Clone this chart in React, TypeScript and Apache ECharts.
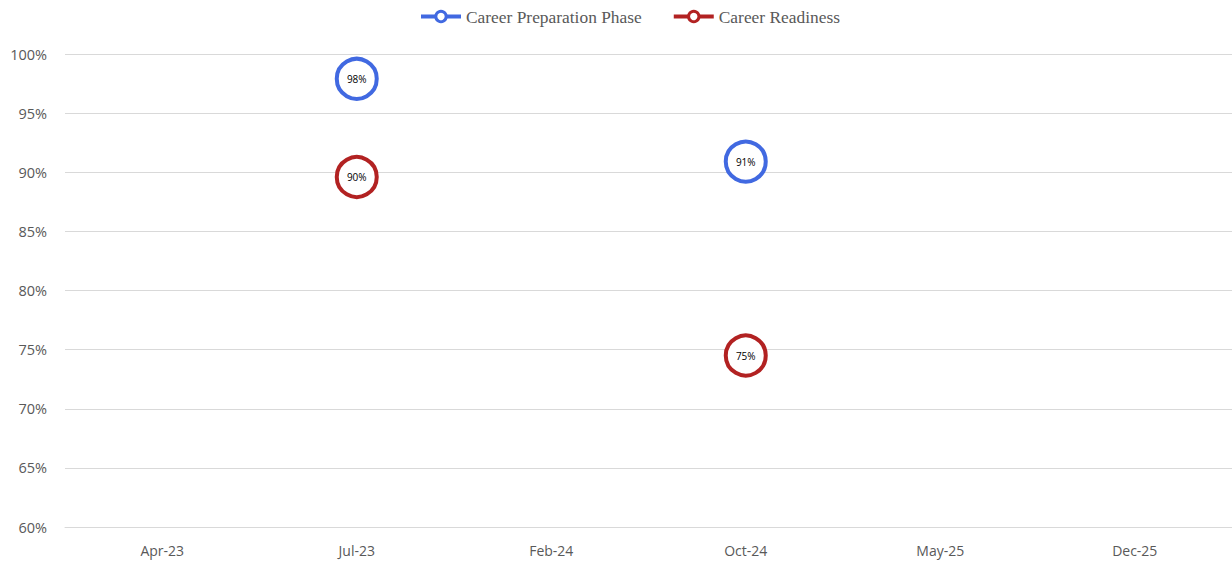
import React, { useEffect, useRef } from "react";
import * as echarts from "echarts";

const categories = ["Apr-23", "Jul-23", "Feb-24", "Oct-24", "May-25", "Dec-25"];
const prepValues: (number | null)[] = [null, 0.979, null, 0.909, null, null];
const readinessValues: (number | null)[] = [null, 0.896, null, 0.745, null, null];
const yTicks = { min: 0.6, max: 1.0, interval: 0.05 };

export default function App() {
  const ref = useRef<HTMLDivElement>(null);
  useEffect(() => {
    const chart = echarts.init(ref.current!, null, { renderer: "svg" });
    const mkSeries = (name: string, data: (number | null)[], color: string) => ({
      name,
      type: "line",
      data,
      connectNulls: false,
      showSymbol: true,
      symbol: "circle",
      symbolSize: 40,
      itemStyle: { color: "#ffffff", borderColor: color, borderWidth: 4 },
      lineStyle: { color, width: 4 },
      label: {
        show: true,
        position: "inside",
        fontFamily: "Open Sans",
        fontSize: 10,
        color: "#000000",
        formatter: (p: any) => Math.round(p.value * 100) + "%",
      },
      emphasis: { disabled: true },
    });
    chart.setOption({
      animation: false,
      backgroundColor: "#ffffff",
      legend: {
        top: 3,
        left: 414,
        itemWidth: 40,
        itemHeight: 13,
        itemGap: 30,
        itemStyle: { borderWidth: 3 },
        lineStyle: { width: 4 },
        textStyle: { fontFamily: "Liberation Serif", fontSize: 17.4, color: "#595959" },
        data: ["Career Preparation Phase", "Career Readiness"],
      },
      grid: { left: 65, right: -4, top: 54, bottom: 44, containLabel: false },
      xAxis: {
        type: "category",
        data: categories,
        boundaryGap: true,
        axisLine: { lineStyle: { color: "#d9d9d9", width: 1 } },
        axisTick: { show: false },
        axisLabel: { fontFamily: "Open Sans", fontSize: 14, color: "#595959", margin: 16 },
      },
      yAxis: {
        type: "value",
        min: yTicks.min,
        max: yTicks.max,
        interval: yTicks.interval,
        axisLine: { show: false },
        axisTick: { show: false },
        splitLine: { lineStyle: { color: "#d9d9d9", width: 1 } },
        axisLabel: {
          fontFamily: "Open Sans",
          fontSize: 14.5,
          color: "#595959",
          margin: 18,
          formatter: (v: number) => Math.round(v * 100) + "%",
        },
      },
      series: [
        mkSeries("Career Preparation Phase", prepValues, "#4169e1"),
        mkSeries("Career Readiness", readinessValues, "#b22222"),
      ],
    });
    return () => chart.dispose();
  }, []);
  return (
    <div
      ref={ref}
      style={{ position: "fixed", left: 0, top: 0, width: 1232, height: 571, background: "#fff" }}
    />
  );
}
